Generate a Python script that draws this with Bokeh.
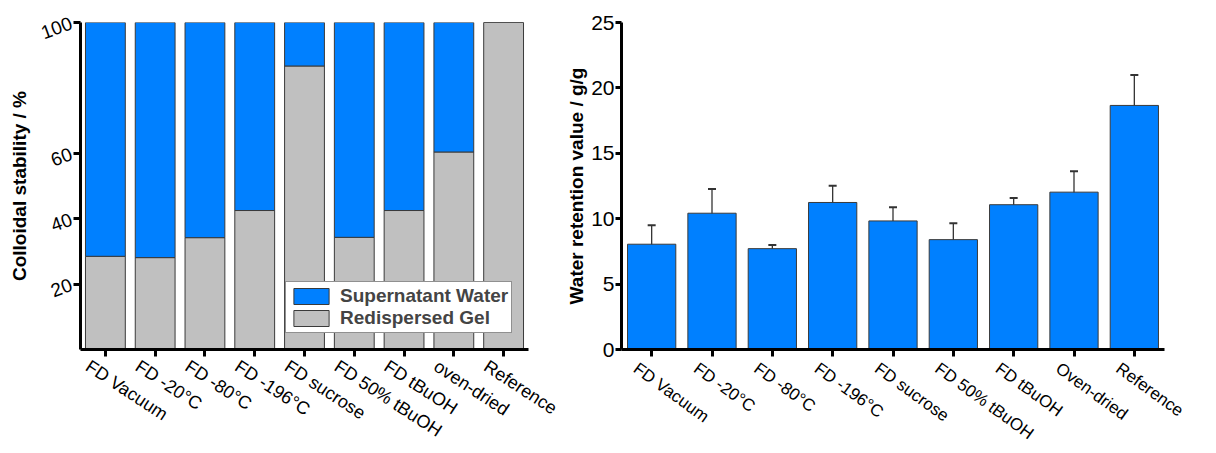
from bokeh.plotting import figure
from bokeh.layouts import row
from bokeh.models import (ColumnDataSource, FixedTicker, Legend, LegendItem,
                          Whisker, TeeHead, Range1d, LinearAxis)
from bokeh.embed import file_html
from bokeh.resources import INLINE

# ---------------- data ----------------
cats_left = ["FD Vacuum", "FD -20°C", "FD -80°C", "FD -196°C", "FD sucrose",
             "FD 50% tBuOH", "FD tBuOH", "oven-dried", "Reference"]
gel = [28.5, 28.1, 34.2, 42.5, 86.7, 34.3, 42.5, 60.4, 100.0]
water = [100.0 - g for g in gel]
left_ticks = [20, 40, 60, 100]

cats_right = ["FD Vacuum", "FD -20°C", "FD -80°C", "FD -196°C", "FD sucrose",
              "FD 50% tBuOH", "FD tBuOH", "Oven-dried", "Reference"]
wrv = [8.05, 10.42, 7.71, 11.24, 9.83, 8.40, 11.07, 12.03, 18.66]
wrv_err = [1.45, 1.85, 0.28, 1.27, 1.05, 1.25, 0.52, 1.60, 2.33]
right_ticks = [0, 5, 10, 15, 20, 25]

FONT = "Liberation Sans"
BLUE = "#0080FF"
GRAY = "#C0C0C0"
EDGE = "#3a3a3a"
H = 453
TOP = 22
BOTTOM = 98


def style_axes(p, cats, shift, angle, size, standoff):
    n = len(cats)
    idx = list(range(n))
    for ax in (p.xaxis[0], p.yaxis[0]):
        ax.axis_line_width = 3
        ax.axis_line_color = "black"
        ax.major_tick_line_width = 3
        ax.major_tick_line_color = "black"
        ax.major_tick_out = 7
        ax.major_tick_in = 0
        ax.minor_tick_line_color = None
        ax.major_label_text_font = FONT
        ax.major_label_text_color = "black"
        ax.axis_label_text_font = FONT
        ax.axis_label_text_font_style = "bold"
        ax.axis_label_text_color = "black"
    p.xgrid.visible = False
    p.ygrid.visible = False
    p.outline_line_color = None
    # main x axis: line + ticks at the category centres, no labels
    xa = p.xaxis[0]
    xa.ticker = FixedTicker(ticks=idx)
    xa.major_label_overrides = {i: "" for i in idx}
    xa.major_label_standoff = 0
    xa.major_label_text_font_size = "1px"
    # label-only axis whose label anchors sit a little left of the ticks
    p.extra_x_ranges = {"lab": Range1d(-0.5 + shift, n - 0.5 + shift)}
    lab = LinearAxis(x_range_name="lab", ticker=FixedTicker(ticks=idx),
                     major_label_overrides={i: c for i, c in enumerate(cats)},
                     axis_line_color=None, major_tick_line_color=None,
                     minor_tick_line_color=None, major_tick_out=0,
                     major_tick_in=0, major_label_standoff=standoff,
                     major_label_orientation=angle,
                     major_label_text_font=FONT,
                     major_label_text_font_size=size,
                     major_label_text_color="black")
    p.add_layout(lab, "below")


# ---------------- left chart ----------------
src1 = ColumnDataSource(dict(idx=list(range(len(cats_left))), cats=cats_left,
                             gel=gel, water=water))
p1 = figure(x_range=Range1d(-0.5, len(cats_left) - 0.5), y_range=Range1d(0, 100),
            width=563, height=H, output_backend="svg", toolbar_location=None,
            min_border_left=80, min_border_right=35, min_border_top=TOP,
            min_border_bottom=BOTTOM)
rs = p1.vbar_stack(["gel", "water"], x="idx", width=0.8, source=src1,
                   fill_color=[GRAY, BLUE], line_color=EDGE, line_width=1)
style_axes(p1, cats_left, 0.36, -0.58, "18px", 8)
p1.yaxis.ticker = FixedTicker(ticks=left_ticks)
p1.yaxis.major_label_orientation = 0.35
p1.yaxis.major_label_text_font_size = "19px"
p1.yaxis.major_label_standoff = 2
p1.yaxis.axis_label = "Colloidal stability / %"
p1.yaxis.axis_label_text_font_size = "19px"
p1.yaxis.axis_label_standoff = 4

legend = Legend(items=[LegendItem(label="Supernatant Water", renderers=[rs[1]]),
                       LegendItem(label="Redispersed Gel", renderers=[rs[0]])],
                location=(205, 16))
legend.label_text_font = FONT
legend.label_text_font_size = "19px"
legend.label_text_font_style = "bold"
legend.glyph_width = 44
legend.glyph_height = 20
legend.spacing = 0
legend.padding = 3
legend.margin = 0
legend.label_standoff = 7
legend.label_height = 20
legend.border_line_color = "#222222"
legend.border_line_width = 1
legend.background_fill_alpha = 1
p1.add_layout(legend)

# ---------------- right chart ----------------
upper = [v + e for v, e in zip(wrv, wrv_err)]
lower = [v - e for v, e in zip(wrv, wrv_err)]
src2 = ColumnDataSource(dict(idx=list(range(len(cats_right))), cats=cats_right,
                             wrv=wrv, upper=upper, lower=lower))
p2 = figure(x_range=Range1d(-0.5, len(cats_right) - 0.5), y_range=Range1d(0, 25),
            width=645, height=H, output_backend="svg", toolbar_location=None,
            min_border_left=55, min_border_right=44, min_border_top=TOP,
            min_border_bottom=BOTTOM)
p2.vbar(x="idx", top="wrv", width=0.8, source=src2, fill_color=BLUE,
        line_color=EDGE, line_width=1)
wh = Whisker(source=src2, base="idx", upper="upper", lower="lower",
             line_color="#333333", line_width=1.3,
             upper_head=TeeHead(size=8, line_color="#333333", line_width=2),
             lower_head=TeeHead(size=8, line_color="#333333", line_width=2))
p2.add_layout(wh)
style_axes(p2, cats_right, 0.27, -0.63, "17px", 10)
p2.yaxis.major_tick_out = 6
p2.yaxis.ticker = FixedTicker(ticks=right_ticks)
p2.yaxis.major_label_text_font_size = "21px"
p2.yaxis.major_label_standoff = 1
p2.yaxis.axis_label = "Water retention value / g/g"
p2.yaxis.axis_label_text_font_size = "19px"
p2.yaxis.axis_label_standoff = 1

layout = row(p1, p2)
open("out.html", "w").write(file_html(layout, INLINE))
